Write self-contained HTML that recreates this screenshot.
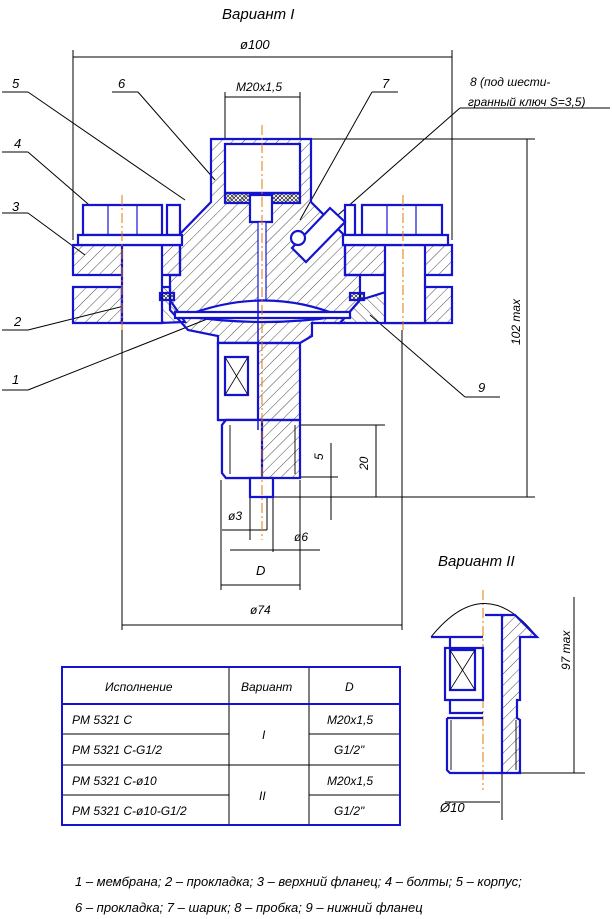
<!DOCTYPE html>
<html><head><meta charset="utf-8"><style>
html,body{margin:0;padding:0;background:#fff;width:612px;height:919px;overflow:hidden}
svg{display:block}
text{font-family:"Liberation Sans","DejaVu Sans",sans-serif;font-style:italic;fill:#000}
</style></head><body>
<svg width="612" height="919" viewBox="0 0 612 919" xmlns="http://www.w3.org/2000/svg">
<defs>
<pattern id="h" width="8" height="8" patternUnits="userSpaceOnUse" patternTransform="rotate(45)">
<line x1="0" y1="0" x2="0" y2="8" stroke="#000" stroke-width="0.7"/></pattern>
<pattern id="h2" width="8" height="8" patternUnits="userSpaceOnUse" patternTransform="rotate(-45)">
<line x1="0" y1="0" x2="0" y2="8" stroke="#000" stroke-width="0.7"/></pattern>
<pattern id="x" width="4" height="4" patternUnits="userSpaceOnUse">
<path d="M0 0L4 4M4 0L0 4" stroke="#000" stroke-width="0.6"/></pattern>
</defs>
<text x="222" y="19" font-size="15" font-family="Liberation Serif">Вариант I</text>
<text x="240" y="49" font-size="13">ø100</text>
<g stroke="#000" stroke-width="1" fill="none">
<line x1="73" y1="50" x2="73" y2="240"/><line x1="452" y1="50" x2="452" y2="240"/>
<line x1="73" y1="57" x2="452" y2="57"/>
<line x1="225" y1="92" x2="225" y2="140"/><line x1="300" y1="92" x2="300" y2="140"/>
<line x1="225" y1="97" x2="300" y2="97"/>
<line x1="300" y1="139" x2="535" y2="139"/>
<line x1="273" y1="497" x2="535" y2="497"/>
<line x1="527" y1="139" x2="527" y2="497"/>
<line x1="2" y1="92" x2="28" y2="92"/><line x1="28" y1="92" x2="185" y2="200"/>
<line x1="112" y1="92" x2="138" y2="92"/><line x1="138" y1="92" x2="215" y2="180"/>
<line x1="372" y1="92" x2="398" y2="92"/><line x1="372" y1="92" x2="300" y2="220"/>
<line x1="460" y1="108" x2="610" y2="108"/><line x1="460" y1="108" x2="330" y2="222"/>
<line x1="2" y1="152" x2="28" y2="152"/><line x1="28" y1="152" x2="95" y2="210"/>
<line x1="2" y1="213" x2="28" y2="213"/><line x1="28" y1="213" x2="85" y2="255"/>
<line x1="2" y1="330" x2="28" y2="330"/><line x1="28" y1="330" x2="160" y2="297"/>
<line x1="2" y1="390" x2="28" y2="390"/><line x1="28" y1="390" x2="230" y2="310"/>
<line x1="465" y1="397" x2="500" y2="397"/><line x1="465" y1="397" x2="370" y2="315"/>
<line x1="300" y1="425" x2="385" y2="425"/><line x1="376" y1="425" x2="376" y2="497"/>
<line x1="300" y1="477" x2="338" y2="477"/><line x1="331" y1="443" x2="331" y2="520"/>
<line x1="250" y1="497" x2="250" y2="540"/><line x1="267" y1="497" x2="267" y2="530"/>
<line x1="221" y1="480" x2="221" y2="590"/><line x1="300" y1="480" x2="300" y2="590"/>
<line x1="273" y1="497" x2="273" y2="552"/>
<line x1="222" y1="530" x2="267" y2="530"/>
<line x1="230" y1="550" x2="320" y2="550"/>
<line x1="221" y1="585" x2="300" y2="585"/>
<line x1="122" y1="330" x2="122" y2="630"/><line x1="402" y1="330" x2="402" y2="630"/>
<line x1="122" y1="625" x2="402" y2="625"/>
</g>
<text x="12" y="88" font-size="13">5</text><text x="118" y="88" font-size="13">6</text>
<text x="236" y="91" font-size="12">M20x1,5</text><text x="382" y="88" font-size="13">7</text>
<text x="470" y="86" font-size="12">8 (под шести-</text><text x="468" y="106" font-size="12">гранный ключ S=3,5)</text>
<text x="14" y="148" font-size="13">4</text><text x="12" y="211" font-size="13">3</text>
<text x="14" y="326" font-size="13">2</text><text x="12" y="384" font-size="13">1</text>
<text x="478" y="392" font-size="13">9</text>
<text transform="translate(520,345) rotate(-90)" font-size="12">102 max</text>
<text transform="translate(368,470) rotate(-90)" font-size="12">20</text>
<text transform="translate(323,460) rotate(-90)" font-size="12">5</text>
<text x="228" y="520" font-size="12">ø3</text><text x="294" y="541" font-size="12">ø6</text>
<text x="256" y="575" font-size="13">D</text><text x="250" y="614" font-size="12">ø74</text>
<g stroke="#1414d0" stroke-width="2.2">
<path d="M73 245H180V275H73Z M73 287H122V323H73Z M402 287H452V323H402Z M345 245H452V275H345Z" fill="url(#h)"/>
<path d="M211 139H311V202L345 236V275H360V300L340 323H312V336L300 343H218V336L188 330L170 310V275H180V234L211 202Z" fill="url(#h)"/>
<path d="M122 287H170V300L185 322L160 323H122Z M360 300L402 287V323H340Z" fill="url(#h2)"/>
<path d="M122 245H162V323H122Z M385 245H425V323H385Z" fill="#fff"/>
<path d="M83 205H162V235H83Z M362 205H442V235H362Z M167 205H180V235H167Z M345 205H355V235H345Z" fill="#fff"/>
<path d="M78 235H182V245H78Z M343 235H448V245H343Z" fill="#fff"/>
<path d="M225 144H300V193H225Z" fill="#fff"/>
<path d="M225 193H300V203H225Z" fill="url(#x)"/>
<path d="M250 195H272V222H250Z" fill="#fff"/>
<path d="M258 222H266V300H258Z" fill="#fff" stroke-width="1.2"/>
<path d="M185 316Q265 285 340 316Q265 328 185 316Z" fill="#fff"/>
<path d="M175 312H350V318H175Z" fill="#fff"/>
<path d="M160 293H174V300H160Z M350 293H364V300H350Z" fill="url(#x)"/>
<path d="M330 208L345 222L306 262L292 248Z" fill="#fff"/>
<circle cx="298" cy="238" r="7" fill="#fff"/>
<path d="M218 343H300V420H218Z" fill="url(#h)"/>
<path d="M218 343H258V420H218Z" fill="#fff"/>
<path d="M225 357H248V395H225Z" fill="#fff"/>
<path d="M226 420H300V478H226L222 473V425Z" fill="url(#h)"/>
<path d="M226 420H262V478H226L222 473V425Z" fill="#fff"/>
<path d="M250 478H273V497H250Z" fill="#fff"/>
<line x1="258" y1="300" x2="258" y2="430" stroke-width="1.5"/>
</g>
<g stroke="#1414d0" stroke-width="1.2">
<line x1="108" y1="205" x2="108" y2="235"/><line x1="137" y1="205" x2="137" y2="235"/>
<line x1="387" y1="205" x2="387" y2="235"/><line x1="416" y1="205" x2="416" y2="235"/>
</g>
<g stroke="#000" stroke-width="0.9">
<line x1="230" y1="425" x2="230" y2="474"/><line x1="295" y1="425" x2="295" y2="474"/>
<line x1="451" y1="720" x2="451" y2="770"/><line x1="516" y1="720" x2="516" y2="770"/>
</g>
<path d="M225 357L248 395M248 357L225 395" stroke="#000" stroke-width="0.8"/>
<g stroke="#e07a00" stroke-width="1" stroke-dasharray="10 3 2 3">
<line x1="262" y1="125" x2="262" y2="540"/><line x1="122" y1="195" x2="122" y2="330"/><line x1="403" y1="195" x2="403" y2="330"/>
<line x1="483" y1="590" x2="483" y2="790"/>
</g>
<text x="438" y="566" font-size="15" font-family="Liberation Serif">Вариант II</text>
<g stroke="#000" stroke-width="1" fill="none">
<path d="M431 637Q485 570 537 637"/>
<line x1="497" y1="773" x2="585" y2="773"/><line x1="574" y1="597" x2="574" y2="773"/>
<line x1="502" y1="773" x2="502" y2="820"/>
<line x1="445" y1="802" x2="500" y2="802"/>
</g>
<text transform="translate(570,670) rotate(-90)" font-size="12">97 max</text>
<text x="440" y="812" font-size="13">Ø10</text>
<g stroke="#1414d0" stroke-width="2.2">
<path d="M485 615H515L537 637H520V648V700H517V718L520 720V773H502V615Z" fill="url(#h)"/>
<path d="M431 637H483 M450 637V648 M445 648H483V700H445Z M450 700V713H483 M447 718H483 M447 718V770L450 773H502" fill="none"/>
<path d="M450 650H475V690H450Z" fill="#fff"/>
</g>
<path d="M450 650L475 690M475 650L450 690" stroke="#000" stroke-width="0.8"/>
<g stroke="#000" stroke-width="1">
<line x1="62" y1="734" x2="229" y2="734"/><line x1="309" y1="734" x2="400" y2="734"/>
<line x1="62" y1="795" x2="229" y2="795"/><line x1="309" y1="795" x2="400" y2="795"/>
<line x1="62" y1="765" x2="400" y2="765"/>
<line x1="229" y1="667" x2="229" y2="825"/><line x1="309" y1="667" x2="309" y2="825"/>
</g>
<rect x="62" y="667" width="338" height="158" fill="none" stroke="#1414d0" stroke-width="2"/>
<line x1="62" y1="704" x2="400" y2="704" stroke="#1414d0" stroke-width="2"/>
<g font-size="12">
<text x="105" y="691">Исполнение</text><text x="241" y="691">Вариант</text><text x="345" y="691">D</text>
<text x="72" y="724">PM 5321 C</text><text x="72" y="754">PM 5321 C-G1/2</text>
<text x="72" y="785">PM 5321 C-ø10</text><text x="72" y="815">PM 5321 C-ø10-G1/2</text>
<text x="262" y="739">I</text><text x="259" y="800">II</text>
<text x="327" y="724">M20x1,5</text><text x="334" y="754">G1/2"</text>
<text x="327" y="785">M20x1,5</text><text x="334" y="815">G1/2"</text>
</g>
<g font-size="13">
<text x="75" y="886">1 – мембрана; 2 – прокладка; 3 – верхний фланец; 4 – болты; 5 – корпус;</text>
<text x="75" y="912">6 – прокладка; 7 – шарик; 8 – пробка; 9 – нижний фланец</text>
</g>
</svg>
</body></html>
